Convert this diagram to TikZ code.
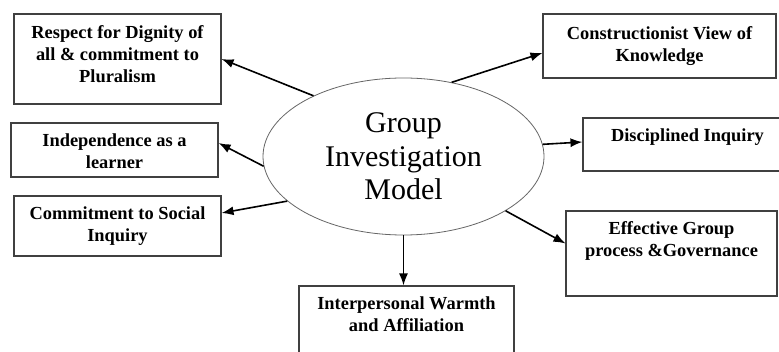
\documentclass[tikz,border=0pt]{standalone}
\usepackage{fontspec}
\setmainfont{Liberation Serif}
\usetikzlibrary{positioning,shapes.geometric,arrows.meta}

\begin{document}
\begin{tikzpicture}[
		x=1pt, y=-1pt,
		box/.style={draw=black!75, line width=1.1pt, rectangle, inner sep=0pt},
		boxtext/.style={align=center, inner sep=0pt, font=\fontsize{18.4}{21.8}\selectfont\bfseries},
		centre/.style={draw=black!60, line width=0.8pt, ellipse, inner sep=0pt, align=center,
				font=\fontsize{30}{33.5}\selectfont},
		link/.style={-{Latex[length=12pt,width=9pt]}, line width=1.6pt}
	]
	\useasboundingbox (0,0) rectangle (779,352);
	\clip (0,0) rectangle (779,352);
	\fill[white] (0,0) rectangle (779,352);

	% centre of the model
	\node[centre, minimum width=281pt, minimum height=157pt] (gim) at (403.5,156.5)
		{Group\\Investigation\\Model};

	% left side
	\node[box, minimum width=207pt, minimum height=90pt] (resp) at (117.5,59) {};
	\node[boxtext, below=12pt of resp.north] (resp-t) {Respect for Dignity of\\all \& commitment to\\Pluralism};
	\node[box, minimum width=207pt, minimum height=54pt] (indep) at (114.5,150) {};
	\node[boxtext, below=11pt of indep.north] (indep-t) {Independence as a\\learner};
	\node[box, minimum width=207pt, minimum height=60pt] (social) at (117.5,226) {};
	\node[boxtext, below=11pt of social.north] (social-t) {Commitment to Social\\Inquiry};

	% bottom
	\node[box, minimum width=215pt, minimum height=80pt] (warmth) at (406.5,326) {};
	\node[boxtext, below=11pt of warmth.north] (warmth-t) {Interpersonal Warmth\\and Affiliation};

	% right side
	\node[box, minimum width=233pt, minimum height=64pt] (constr) at (659.5,46) {};
	\node[boxtext, below=13pt of constr.north] (constr-t) {Constructionist View of\\Knowledge};
	\node[box, minimum width=209pt, minimum height=53pt] (disc) at (687.5,144.5) {};
	\node[boxtext, below=11pt of disc.north] (disc-t) {Disciplined Inquiry};
	\node[box, minimum width=211pt, minimum height=85pt] (govern) at (671.5,253.5) {};
	\node[boxtext, below=11pt of govern.north] (govern-t) {Effective Group\\process \&Governance};

	% arrows
	\draw[link] (gim.146) -- (resp.east);
	\draw[link] (gim.184) -- ([yshift=7pt]indep.east);
	\draw[link] (gim.201) -- ([yshift=13pt]social.east);
	\draw[link] (gim.south) -- (gim.south |- warmth.north);
	\draw[link] (gim.57) -- ([yshift=-7pt]constr.west);
	\draw[link] (gim.5) -- ([yshift=2.5pt]disc.west);
	\draw[link] (gim.332) -- ([yshift=10pt]govern.west);
\end{tikzpicture}
\end{document}
